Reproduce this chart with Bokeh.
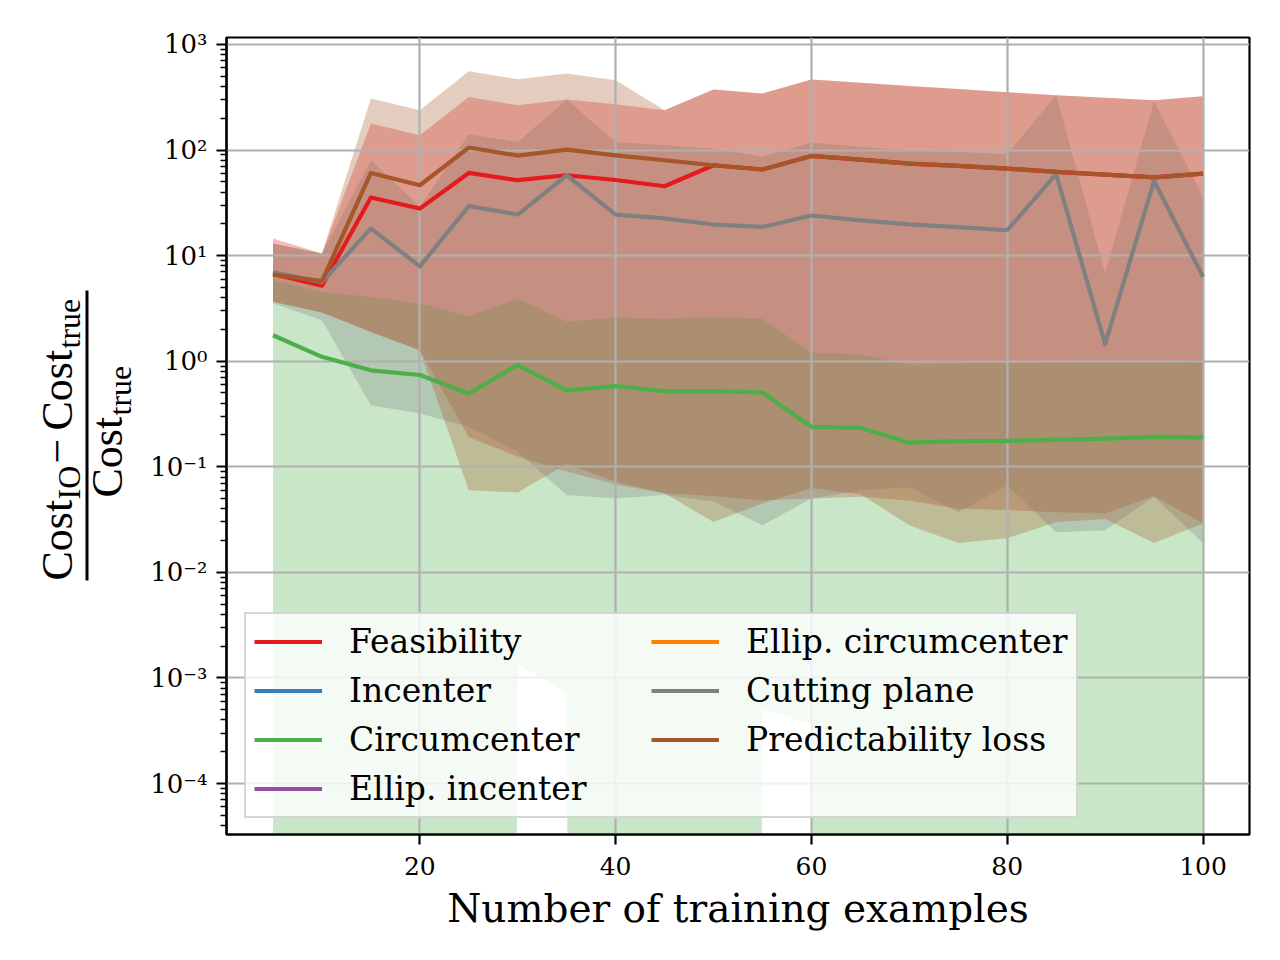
import math
import numpy as np
from bokeh.plotting import figure
from bokeh.layouts import row
from bokeh.models import (Range1d, FixedTicker, CustomJSTickFormatter, Legend, LegendItem,
                          ColumnDataSource)
from bokeh.core.properties import value
from bokeh.embed import file_html
from bokeh.resources import INLINE

# ---------------- data ----------------
n_examples = [5, 10, 15, 20, 25, 30, 35, 40, 45, 50, 55, 60, 65, 70, 75, 80, 85, 90, 95, 100]

feas_mean = [6.7, 5.2, 35.5, 27.9, 60.7, 51.8, 57.7, 52.0, 45.4, 71.8, 65.4, 87.9, 81, 74.5, 70.7, 66.8, 62, 58.6, 55, 59.9]
feas_upper = [14.5, 10.5, 178, 138, 318, 265, 301, 272, 238, 374, 343, 466, 434, 404, 378, 352, 330, 312, 296, 323]
feas_lower = [3.65, 2.9, 1.89, 1.27, 0.19, 0.125, 0.09, 0.068, 0.056, 0.053, 0.048, 0.05, 0.052, 0.048, 0.040, 0.039, 0.037, 0.036, 0.053, 0.029]

circ_mean = [1.76, 1.1, 0.82, 0.74, 0.494, 0.92, 0.53, 0.58, 0.52, 0.52, 0.505, 0.239, 0.234, 0.169, 0.175, 0.176, 0.18, 0.185, 0.192, 0.19]
circ_upper = [5.85, 4.53, 4.06, 3.52, 2.67, 3.93, 2.36, 2.6, 2.53, 2.63, 2.53, 1.2, 1.16, 0.92, 0.95, 0.96, 0.97, 0.99, 1.0, 1.02]
circ_lower = [0, 0, 0, 0, 0, 1.37e-3, 7.2e-4, 0, 0, 0, 5.1e-4, 3.6e-4, 0, 0, 0, 0, 0, 0, 0, 0]

cut_mean = [7.0, 5.6, 18.1, 7.9, 29.4, 24.5, 57.7, 24.5, 22.5, 19.7, 18.7, 24.0, 21.6, 19.8, 18.6, 17.4, 59, 1.45, 51, 6.3]
cut_upper = [13, 10.5, 80, 28.9, 141, 119, 301, 119, 111, 103, 87, 118, 107, 99.5, 96, 91, 330, 6.8, 292, 36]
cut_lower = [3.54, 2.44, 0.383, 0.32, 0.239, 0.138, 0.054, 0.05, 0.054, 0.047, 0.028, 0.05, 0.06, 0.064, 0.037, 0.067, 0.024, 0.025, 0.052, 0.019]

pred_mean = [6.6, 5.75, 60.7, 46.4, 105.6, 88.7, 101, 89, 80, 71.8, 65.4, 87.9, 81, 74.5, 70.7, 66.8, 62, 58.6, 55, 59.9]
pred_upper = [13, 10.5, 307, 238, 557, 468, 530, 458, 238, 374, 343, 466, 434, 404, 378, 352, 330, 312, 296, 323]
pred_lower = [3.65, 2.9, 1.89, 1.27, 0.06, 0.057, 0.107, 0.072, 0.056, 0.030, 0.045, 0.063, 0.055, 0.028, 0.019, 0.021, 0.030, 0.032, 0.019, 0.029]

method_names = ["Feasibility", "Incenter", "Circumcenter", "Ellip. incenter",
                "Ellip. circumcenter", "Cutting plane", "Predictability loss"]
x_ticks = [20, 40, 60, 80, 100]
y_decades = [-4, -3, -2, -1, 0, 1, 2, 3]

# y-axis label pieces: (text, size class)
ylabel_numerator = [("Cost", "main"), ("IO", "sub"), ("\u2212", "main"), ("Cost", "main"), ("true", "sub")]
ylabel_denominator = [("Cost", "main"), ("true", "sub")]

# ---------------- styling / geometry ----------------
COLORS = {"Feasibility": "#e41a1c", "Incenter": "#377eb8", "Circumcenter": "#4daf4a",
          "Ellip. incenter": "#984ea3", "Ellip. circumcenter": "#ff7f00",
          "Cutting plane": "#808080", "Predictability loss": "#a65628"}
X0, X1 = 0.25, 104.75
LY0, LY1 = -4.483, 3.066
FL, FT, FW, FH = 226, 37, 1023, 797   # frame position in page pixels
BOTTOM = 110
LAB_W = 140
SERIF = "DejaVu Serif"


def floor_pos(a):
    a = np.asarray(a, dtype=float)
    return np.where(a > 0, a, 1e-100)


p = figure(frame_width=FW, frame_height=FH,
           x_range=Range1d(X0, X1), y_range=Range1d(10 ** LY0, 10 ** LY1),
           y_axis_type="log", output_backend="svg", toolbar_location=None,
           min_border_left=FL - LAB_W, min_border_top=FT, min_border_right=23,
           min_border_bottom=BOTTOM)
p.background_fill_color = "white"
p.border_fill_color = "white"
p.outline_line_color = "black"
p.outline_line_width = 2.2

# bands
bands = [("Feasibility", feas_lower, feas_upper),
         ("Circumcenter", circ_lower, circ_upper),
         ("Cutting plane", cut_lower, cut_upper),
         ("Predictability loss", pred_lower, pred_upper)]
for name, lo, hi in bands:
    src = ColumnDataSource(dict(x=n_examples, lo=floor_pos(lo), hi=floor_pos(hi)))
    r = p.varea(x="x", y1="lo", y2="hi", source=src, fill_color=COLORS[name], fill_alpha=0.3)
    r.level = "image"

# lines
means = {"Feasibility": feas_mean, "Circumcenter": circ_mean,
         "Cutting plane": cut_mean, "Predictability loss": pred_mean}
line_renderers = {}
for name in method_names:
    if name in means:
        src = ColumnDataSource(dict(x=n_examples, y=means[name]))
    else:  # listed in the legend, no visible curve of its own
        src = ColumnDataSource(dict(x=np.array([np.nan]), y=np.array([np.nan])))
    line_renderers[name] = p.line(x="x", y="y", source=src, line_color=COLORS[name],
                                  line_width=4.2, line_join="round")

# axes
p.xaxis.ticker = FixedTicker(ticks=x_ticks)
p.yaxis.ticker = FixedTicker(ticks=[10.0 ** k for k in y_decades],
                             minor_ticks=[m * 10.0 ** k for k in range(-5, 4) for m in range(2, 10)])
p.yaxis.formatter = CustomJSTickFormatter(code="""
const e = Math.round(Math.log10(tick));
const sup = {'-':'\u207b','0':'\u2070','1':'\u00b9','2':'\u00b2','3':'\u00b3','4':'\u2074',
             '5':'\u2075','6':'\u2076','7':'\u2077','8':'\u2078','9':'\u2079'};
return '10' + String(e).split('').map(c => sup[c]).join('');
""")
for ax in (p.xaxis[0], p.yaxis[0]):
    ax.axis_line_width = 2.2
    ax.axis_line_color = "black"
    ax.major_tick_in = 0
    ax.major_tick_out = 10
    ax.major_tick_line_width = 2.2
    ax.major_tick_line_color = "black"
    ax.minor_tick_in = 0
    ax.minor_tick_out = 6
    ax.minor_tick_line_width = 1.7
    ax.minor_tick_line_color = "black"
    ax.major_label_text_font = SERIF
    ax.major_label_text_font_size = "25px"
    ax.major_label_text_color = "black"
    ax.major_label_standoff = 9
p.xaxis.major_label_standoff = 12
p.yaxis.major_label_text_font_size = "26px"
p.xaxis.axis_label = "Number of training examples"
p.xaxis.axis_label_text_font = SERIF
p.xaxis.axis_label_text_font_size = "39px"
p.xaxis.axis_label_text_font_style = "normal"
p.xaxis.axis_label_text_color = "black"
p.xaxis.axis_label_standoff = 8

for g in (p.xgrid[0], p.ygrid[0]):
    g.grid_line_color = "#b0b0b0"
    g.grid_line_width = 2.2

# legend
legend = Legend(items=[LegendItem(label=n, renderers=[line_renderers[n]]) for n in method_names],
                location=(18, 16), orientation="vertical", ncols=2)
legend.label_text_font = SERIF
legend.label_text_font_size = "33px"
legend.label_text_color = "black"
legend.glyph_width = 68
legend.glyph_height = 33
legend.label_height = 33
legend.label_width = 292
legend.label_standoff = 27
legend.padding = 8
legend.spacing = 10
legend.margin = 0
legend.border_line_color = "#cccccc"
legend.border_line_width = 2
legend.border_line_alpha = 0.8
legend.background_fill_color = "white"
legend.background_fill_alpha = 0.8
p.add_layout(legend, "center")

# ---------------- y-axis label panel (fraction, rotated) ----------------
# frame aligned with the main frame; data x = page x, data y = -(page y)
lab = figure(frame_width=LAB_W, frame_height=FH,
             x_range=Range1d(0, LAB_W), y_range=Range1d(-(FT + FH), -FT),
             x_axis_location=None, y_axis_location=None, toolbar_location=None,
             output_backend="svg", min_border_left=0, min_border_right=0,
             min_border_top=FT, min_border_bottom=BOTTOM)
lab.grid.visible = False
lab.outline_line_color = None
lab.background_fill_color = "white"
lab.border_fill_color = "white"

YF = "Liberation Serif"
SIZES = {"main": "44px", "sub": "32px"}
# along-axis start positions (page y) and text-box centre lines (page x) of the pieces
num_starts = [580, 499, 463, 430, 348]
den_starts = [497, 415]
CENTRE = {"num": {"main": 57, "sub": 68}, "den": {"main": 107, "sub": 119}}
for kind, pieces, starts in (("num", ylabel_numerator, num_starts), ("den", ylabel_denominator, den_starts)):
    for (txt, cls), sy in zip(pieces, starts):
        lab.text(x=[CENTRE[kind][cls]], y=[-sy], text=[txt], angle=math.pi / 2,
                 text_font=value(YF), text_font_size=SIZES[cls], text_color="black",
                 text_align="left", text_baseline="middle")
lab.segment(x0=[86.5], y0=[-290], x1=[86.5], y1=[-580], line_width=3, line_color="black")

layout = row(lab, p)
open("out.html", "w").write(file_html(layout, INLINE))
